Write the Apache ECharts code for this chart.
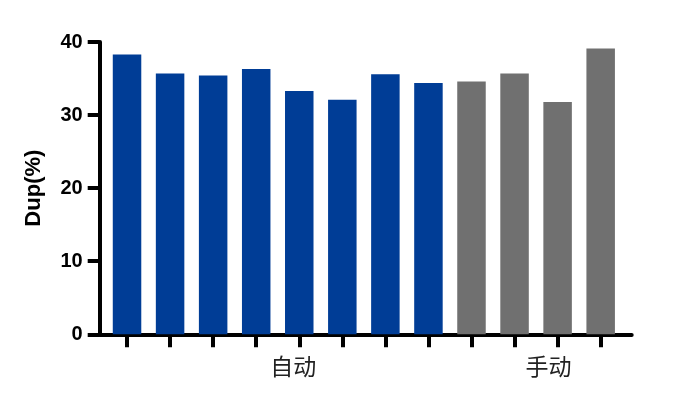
<!DOCTYPE html>
<html>
<head>
<meta charset="utf-8">
<script src="https://cdn.jsdelivr.net/npm/echarts@6/dist/echarts.min.js"></script>
<style>
  html, body { margin: 0; padding: 0; background: #fff; }
  #main { width: 700px; height: 405px; }
</style>
</head>
<body>
<div id="main"></div>
<script>
// 数据
var categories = ['', '', '', '', '自动', '', '', '', '', '', '手动', ''];
var autoValues = [38.3, 35.7, 35.4, 36.3, 33.3, 32.1, 35.6, 34.4];
var manualValues = [34.6, 35.7, 31.8, 39.1];
var yTicks = [0, 10, 20, 30, 40];

var blue = '#003d96';
var grey = '#707070';

// 拼接柱子数据，自动=蓝色，手动=灰色
var barData = [];
for (var i = 0; i < autoValues.length; i++) {
    barData.push({ value: autoValues[i], itemStyle: { color: blue } });
}
for (var j = 0; j < manualValues.length; j++) {
    barData.push({ value: manualValues[j], itemStyle: { color: grey } });
}

var oChart = echarts.init(document.getElementById('main'));
var chartopt = {
    animation: false,
    grid: [
        // 坐标轴框
        { left: 99.7, right: 68.3, top: 42, bottom: 70.7 },
        // 柱子所在区域
        { left: 105.5, right: 77.8, top: 42, bottom: 70.7 }
    ],
    xAxis: [{
        gridIndex: 0,
        type: 'value',
        min: 0,
        max: 1,
        axisLine: { show: true, lineStyle: { color: '#000', width: 4 } },
        axisTick: { show: false },
        axisLabel: { show: false },
        splitLine: { show: false }
    }, {
        gridIndex: 1,
        type: 'category',
        data: categories,
        axisLine: { show: false },
        axisTick: { show: true, alignWithLabel: true, length: 13, lineStyle: { color: '#000', width: 4 } },
        axisLabel: {
            interval: 0,
            margin: 20,
            fontFamily: 'Noto Sans CJK SC',
            fontSize: 23,
            color: '#222',
            formatter: function (v) {
                if (v === '自动') return '{a|' + v + '}';
                if (v === '手动') return '{b|' + v + '}';
                return v;
            },
            rich: {
                a: { fontFamily: 'Noto Sans CJK SC', fontSize: 23, color: '#222', padding: [0, 12, 0, 0] },
                b: { fontFamily: 'Noto Sans CJK SC', fontSize: 23, color: '#222', padding: [0, 18, 0, 0] }
            }
        }
    }],
    yAxis: [{
        gridIndex: 0,
        type: 'value',
        min: 0,
        max: 40,
        interval: 10,
        name: 'Dup(%)',
        nameLocation: 'middle',
        nameGap: 55,
        nameTextStyle: { fontFamily: 'Liberation Sans', fontWeight: 'bold', fontSize: 22, color: '#000' },
        axisLine: { show: true, lineStyle: { color: '#000', width: 4 } },
        axisTick: { show: true, length: 12, lineStyle: { color: '#000', width: 4 } },
        axisLabel: {
            margin: 17,
            fontFamily: 'Liberation Sans',
            fontWeight: 'bold',
            fontSize: 20,
            color: '#000',
            formatter: function (v) { return yTicks.indexOf(v) >= 0 ? String(v) : ''; }
        },
        splitLine: { show: false }
    }, {
        gridIndex: 1,
        type: 'value',
        min: 0,
        max: 40,
        interval: 10,
        show: false
    }],
    series: [{
        type: 'bar',
        xAxisIndex: 1,
        yAxisIndex: 1,
        barWidth: 28.5,
        data: barData
    }]
};
oChart.setOption(chartopt);
</script>
</body>
</html>
